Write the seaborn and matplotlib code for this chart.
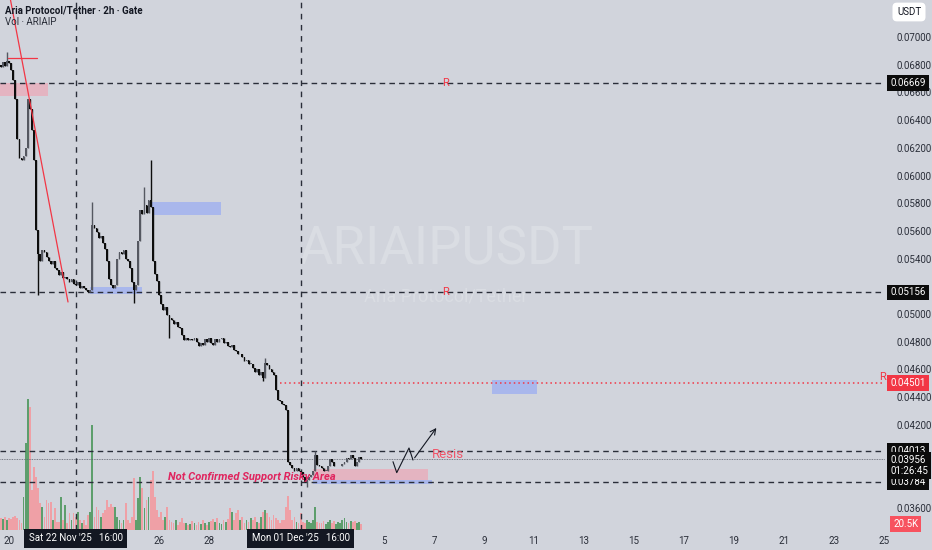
import numpy as np
import pandas as pd
import matplotlib.pyplot as plt
import matplotlib.transforms as mtransforms
from matplotlib.patches import Rectangle
import seaborn as sns

# 2h closes, ARIAIP/USDT (Gate), starting Nov 19 16:00
closes = [
    0.0678, 0.0682, 0.0679, 0.0683, 0.0681, 0.0676, 0.0669, 0.0655, 0.0626, 0.0613,
    0.0611, 0.0614, 0.0620, 0.0655, 0.0648, 0.0633, 0.0611, 0.0561, 0.0543, 0.0538,
    0.0546, 0.0545, 0.0541, 0.0538, 0.0536, 0.0538, 0.0533, 0.0532, 0.0528, 0.0530,
    0.0526, 0.0527, 0.0525, 0.0523, 0.0525, 0.0522, 0.0521, 0.0523, 0.0519, 0.0520,
    0.0519, 0.0517, 0.0516, 0.0517, 0.0564, 0.0562, 0.0559, 0.0555, 0.0556, 0.0551,
    0.0547, 0.0538, 0.0525, 0.0521, 0.0519, 0.0521, 0.0540, 0.0545, 0.0543, 0.0546,
    0.0540, 0.0538, 0.0533, 0.0523, 0.0517, 0.0521, 0.0553, 0.0575, 0.0572, 0.0579,
    0.0573, 0.0582, 0.0577, 0.0538, 0.0529, 0.0524, 0.0514, 0.0507, 0.0503, 0.0505,
    0.0499, 0.0497, 0.0496, 0.0493, 0.0494, 0.0491, 0.0490, 0.0485, 0.0481, 0.0483,
    0.0481, 0.0482, 0.0481, 0.0483, 0.0480, 0.0477, 0.0479, 0.0478, 0.0482, 0.0480,
    0.0483, 0.0479, 0.0478, 0.0482, 0.0480, 0.0482, 0.0483, 0.0479, 0.0480, 0.0477,
    0.0476, 0.0478, 0.0474, 0.0473, 0.0471, 0.0471, 0.0469, 0.0466, 0.0467, 0.0464,
    0.0464, 0.0461, 0.0458, 0.0460, 0.0456, 0.0458, 0.0454, 0.0465, 0.0463, 0.0460,
    0.0458, 0.0456, 0.0445, 0.0438, 0.0437, 0.0435, 0.0434, 0.0431, 0.0393, 0.0391,
    0.0389, 0.0387, 0.0389, 0.0387, 0.0386, 0.0382, 0.0379, 0.0380, 0.0382, 0.0384,
    0.0387, 0.0398, 0.0391, 0.0390, 0.0389, 0.0387, 0.0387, 0.0390, 0.0395, 0.0393,
    0.0390, 0.0390, 0.0390, 0.0390, 0.0392, 0.0393, 0.0396, 0.0395, 0.0398, 0.0396,
    0.0390, 0.0393, 0.0397, 0.03956,
]
first_open = 0.0680

# notable wicks (index -> price)
wick_highs = {3: 0.0689, 44: 0.0581, 69: 0.0592, 72: 0.0611, 127: 0.0468, 151: 0.0401}
wick_lows = {18: 0.0514, 64: 0.0508, 81: 0.0483, 126: 0.0452, 147: 0.0375}

# volume in thousands
volumes_k = [
    41, 37, 44, 34, 41, 37, 44, 48, 41, 34,
    24, 112, 296, 445, 418, 136, 214, 180, 143, 92,
    78, 44, 102, 92, 95, 34, 75, 27, 27, 112,
    34, 85, 24, 58, 34, 58, 44, 61, 34, 24,
    34, 17, 51, 61, 357, 44, 78, 68, 44, 58,
    68, 102, 78, 88, 78, 78, 44, 34, 24, 34,
    92, 34, 24, 44, 177, 34, 109, 180, 143, 75,
    102, 112, 170, 200, 112, 68, 44, 61, 34, 44,
    78, 34, 27, 24, 34, 17, 27, 41, 24, 24,
    17, 20, 31, 24, 17, 27, 20, 34, 24, 17,
    27, 31, 37, 27, 41, 24, 20, 34, 27, 37,
    75, 61, 34, 58, 68, 34, 44, 24, 34, 27,
    41, 34, 44, 27, 24, 44, 61, 68, 58, 44,
    34, 51, 41, 34, 24, 34, 34, 78, 116, 68,
    34, 44, 27, 24, 58, 27, 24, 34, 27, 24,
    34, 78, 27, 24, 24, 31, 20, 27, 34, 24,
    31, 20, 27, 24, 34, 41, 27, 24, 31, 27,
    31, 24, 27, 20.5,
]

# labels hidden behind the price tags are left out
price_ticks = [0.036, 0.042, 0.044, 0.046, 0.048, 0.050, 0.054, 0.056, 0.058,
               0.060, 0.062, 0.064, 0.066, 0.068, 0.070]
date_ticks = [0, 6, 8, 15, 17, 19, 21, 23, 25, 27, 29, 31, 33, 35]
date_labels = ['20', '26', '28', '5', '7', '9', '11', '13', '15', '17', '19', '21', '23', '25']

level_lines = [0.06669, 0.05156, 0.04013, 0.03784]
last_price = 0.03956
red_level = 0.04501

BG = '#d1d4dc'
TXT = '#2a2e39'
RED = '#f23645'

sns.set_theme(style='white')
plt.rcParams['font.family'] = ['Roboto', 'DejaVu Sans']

times = pd.date_range('2025-11-19 16:00', periods=len(closes), freq='2h')
t = ((times - pd.Timestamp('2025-11-20')) / pd.Timedelta(days=1)).values
c = np.array(closes)
o = np.array([first_open] + closes[:-1])
hi = np.maximum(o, c)
lo = np.minimum(o, c)
for k, v in wick_highs.items():
    hi[k] = v
for k, v in wick_lows.items():
    lo[k] = v
up = c >= o

fig = plt.figure(figsize=(9.32, 5.5), dpi=100, facecolor=BG)
rect = [0, 20 / 550, 885 / 932, 530 / 550]
ax_vol = fig.add_axes(rect)
ax = fig.add_axes(rect)
ax_vol.set_facecolor(BG)
ax.patch.set_visible(False)

# volume pane
vol_df = pd.DataFrame({'t': t, 'vol': volumes_k, 'dir': np.where(up, 'up', 'down')})
sns.barplot(data=vol_df, x='t', y='vol', hue='dir',
            palette={'up': '#5d9e6c', 'down': '#efa0a6'},
            native_scale=True, dodge=False, width=0.85, errorbar=None,
            saturation=1, legend=False, linewidth=0, ax=ax_vol)
xlim = (-0.36, 35.04)
ax_vol.set_xlim(xlim)
ax_vol.set_ylim(0, 1800)
ax_vol.set_axis_off()

# candles
col = np.where(up, '#555861', '#0d0d0d')
ax.vlines(t, lo, hi, colors=col, lw=1.0, zorder=4)
body = np.maximum(np.abs(c - o), 0.00005)
ax.bar(t, body, bottom=np.minimum(o, c), width=0.072, color=col, linewidth=0, zorder=4)

ax.set_xlim(xlim)
ax.set_ylim(0.03441, 0.07267)
for s in ax.spines.values():
    s.set_visible(False)

# levels
for lv in level_lines:
    ax.axhline(lv, color=TXT, lw=1, ls=(0, (4, 3)), zorder=3)
ax.axhline(last_price, color='#5d606b', lw=0.6, ls=(0, (1, 1)), zorder=3)
ax.plot([10.84, xlim[1]], [red_level, red_level], color=RED, lw=1.1, ls=(0, (1, 2)), zorder=3)
for vx in [2.6667, 11.6667]:
    ax.axvline(vx, color=TXT, lw=1, ls=(0, (4, 4)), zorder=3)

# zones
zones = [
    (-0.36, 1.56, 0.06574, 0.06669, '#f29fb0', 0.6),
    (5.72, 8.48, 0.05715, 0.05809, '#94a8f5', 0.65),
    (3.24, 5.32, 0.05145, 0.05195, '#94a8f5', 0.65),
    (19.32, 21.12, 0.04423, 0.04524, '#94a8f5', 0.65),
    (12.16, 16.76, 0.03802, 0.03881, '#f29fb0', 0.6),
    (12.16, 16.92, 0.03770, 0.03800, '#94a8f5', 0.65),
]
for x0, x1, y0, y1, fc, a in zones:
    ax.add_patch(Rectangle((x0, y0), x1 - x0, y1 - y0, fc=fc, ec='none', alpha=a, zorder=2))

# drawings
ax.plot([0.06, 2.36], [0.07267, 0.05087], color=RED, lw=0.9, zorder=5)
ax.plot([-0.04, 1.12], [0.06848, 0.06848], color=RED, lw=0.9, zorder=5)
path_x = [15.36, 15.51, 16.0, 16.16]
path_y = [0.03934, 0.03855, 0.04033, 0.03946]
ax.plot(path_x, path_y, color='#131722', lw=0.8, zorder=5)
ax.annotate('', xy=(17.16, 0.04194), xytext=(16.16, 0.03946),
            arrowprops=dict(arrowstyle='->', lw=0.8, color='#131722', mutation_scale=10), zorder=5)

ax.text(17.44, 0.06669, 'R', color=RED, fontsize=8, ha='center', va='center', zorder=6)
ax.text(17.44, 0.05156, 'R', color=RED, fontsize=8, ha='center', va='center', zorder=6)
ax.text(34.92, 0.04545, 'R', color=RED, fontsize=8, ha='center', va='center', zorder=6)
ax.text(16.92, 0.03985, 'Resis', color='#f0566a', fontsize=9.5, ha='left', va='center', zorder=6)
ax.text(6.36, 0.03824, 'Not Confirmed Support Risky Area', color='#e0245e', fontsize=8,
        fontweight='bold', fontstyle='italic', ha='left', va='center', zorder=6)

# watermark
ax.text(17.48, 0.05462, 'ARIAIPUSDT', color='#dadde3', fontsize=38, ha='center', va='center', zorder=1)
ax.text(17.48, 0.05123, 'Aria Protocol/Tether', color='#dadde3', fontsize=13, ha='center', va='center', zorder=1)

# axes ticks
ax.yaxis.tick_right()
ax.set_yticks(price_ticks, [f'{p:.5f}' for p in price_ticks])
ax.set_xticks(date_ticks, date_labels)
ax.tick_params(axis='y', length=0, pad=8, labelsize=7, labelcolor=TXT)
ax.tick_params(axis='x', length=0, pad=4, labelsize=7, labelcolor=TXT)

# price tags
tr = mtransforms.blended_transform_factory(ax.transAxes, ax.transData)
def tag(y, text, fc, dy=0):
    ax.annotate(text, xy=(1.006, y), xycoords=tr, xytext=(0, dy), textcoords='offset points',
                ha='left', va='center', fontsize=7, color='white', zorder=10,
                annotation_clip=False,
                bbox=dict(boxstyle='square,pad=0.3', fc=fc, ec='none'))

for lv in level_lines:
    tag(lv, f'{lv:.5f}', '#0b0b0b')
tag(red_level, f'{red_level:.5f}', RED)
tag(last_price, f'{last_price:.5f}\n01:26:45', '#0b0b0b', dy=-5)

fig.text(893 / 932, 1 - 524 / 550, '20.5K', fontsize=7, color='white', ha='left', va='center',
         bbox=dict(boxstyle='square,pad=0.3', fc='#f7525f', ec='none'))
fig.text(909 / 932, 1 - 12 / 550, 'USDT', fontsize=7, color='#131722', ha='center', va='center',
         bbox=dict(boxstyle='round,pad=0.45', fc='white', ec='none'))

# crosshair date boxes
trx = mtransforms.blended_transform_factory(ax.transData, ax.transAxes)
for vx, lab in [(2.6667, "Sat 22 Nov '25   16:00"), (11.6667, "Mon 01 Dec '25   16:00")]:
    ax.text(vx, -0.016, lab, transform=trx, fontsize=7, color='white', ha='center', va='center',
            zorder=10, clip_on=False, bbox=dict(boxstyle='square,pad=0.45', fc='#131722', ec='none'))

fig.text(5 / 932, 1 - 10 / 550, 'Aria Protocol/Tether · 2h · Gate', fontsize=7, fontweight='semibold',
         color='#131722', ha='left', va='center')
fig.text(5 / 932, 1 - 22 / 550, 'Vol · ARIAIP', fontsize=7, color='#2a2e39', ha='left', va='center')

fig.savefig('out.png', dpi=100, facecolor=BG)
